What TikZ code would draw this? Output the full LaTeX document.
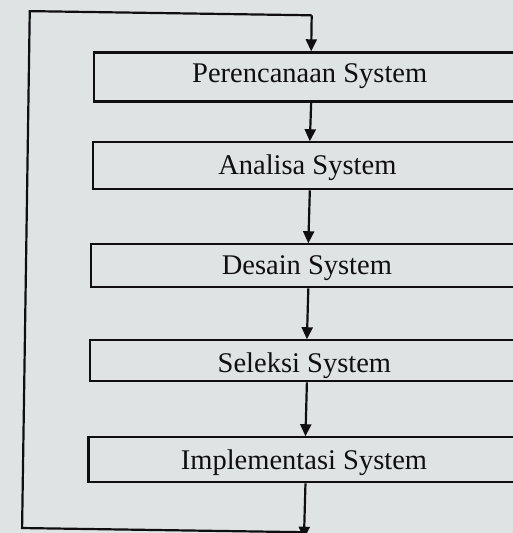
\documentclass[tikz,border=0pt]{standalone}
\usepackage{fontspec}
\setmainfont{Liberation Serif}
\usetikzlibrary{arrows.meta}
\definecolor{paper}{RGB}{223,227,228}
\definecolor{ink}{RGB}{15,15,18}
\begin{document}
\begin{tikzpicture}[x=1pt,y=-1pt,
  box/.style={draw=ink, line width=2.2pt, minimum width=434pt, inner sep=0pt, anchor=north},
  lbl/.style={text=ink, font=\fontsize{28.5}{30}\selectfont, anchor=base, inner sep=0pt},
  line/.style={draw=ink, line width=2.2pt},
  arr/.style={line, -{Triangle[length=12pt,width=11pt]}}]
\fill[paper] (0,0) rectangle (513,533);
\useasboundingbox (0,0) rectangle (513,533);
\clip (0,0) rectangle (513,533);
\begin{scope}[rotate around={-0.85:(256,266)}]
  \node[box, minimum height=49pt] (b1) at (308,50.5) {};
  \node[box, minimum height=47pt] (b2) at (308,140.5) {};
  \node[box, minimum height=43pt] (b3) at (308,242.5) {};
  \node[box, minimum height=41pt] (b4) at (308,338.5) {};
  \node[box, minimum height=45pt] (b5) at (308,435.5) {};
  \node[lbl] (t1) at (307,82) {Perencanaan System};
  \node[lbl] (t2) at (306,174) {Analisa System};
  \node[lbl] (t3) at (307,274) {Desain System};
  \node[lbl] (t4) at (306,372) {Seleksi System};
  \node[lbl] (t5) at (307,469) {Implementasi System};
  \coordinate (top) at (308,14.5);
  \coordinate (tl) at (26,14.5);
  \coordinate (bl) at (26,531.5);
  \coordinate (br) at (308,531.5);
  \coordinate (end) at (308,538);
  \draw[arr] (b1.south) -- (b2.north);
  \draw[arr] (b2.south) -- (b3.north);
  \draw[arr] (b3.south) -- (b4.north);
  \draw[arr] (b4.south) -- (b5.north);
  \draw[arr] (b5.south) -- (end);
  \draw[line] (br) -- (bl) -- (tl) -- (top);
  \draw[arr] (top) -- (b1.north);
\end{scope}
\end{tikzpicture}
\end{document}
